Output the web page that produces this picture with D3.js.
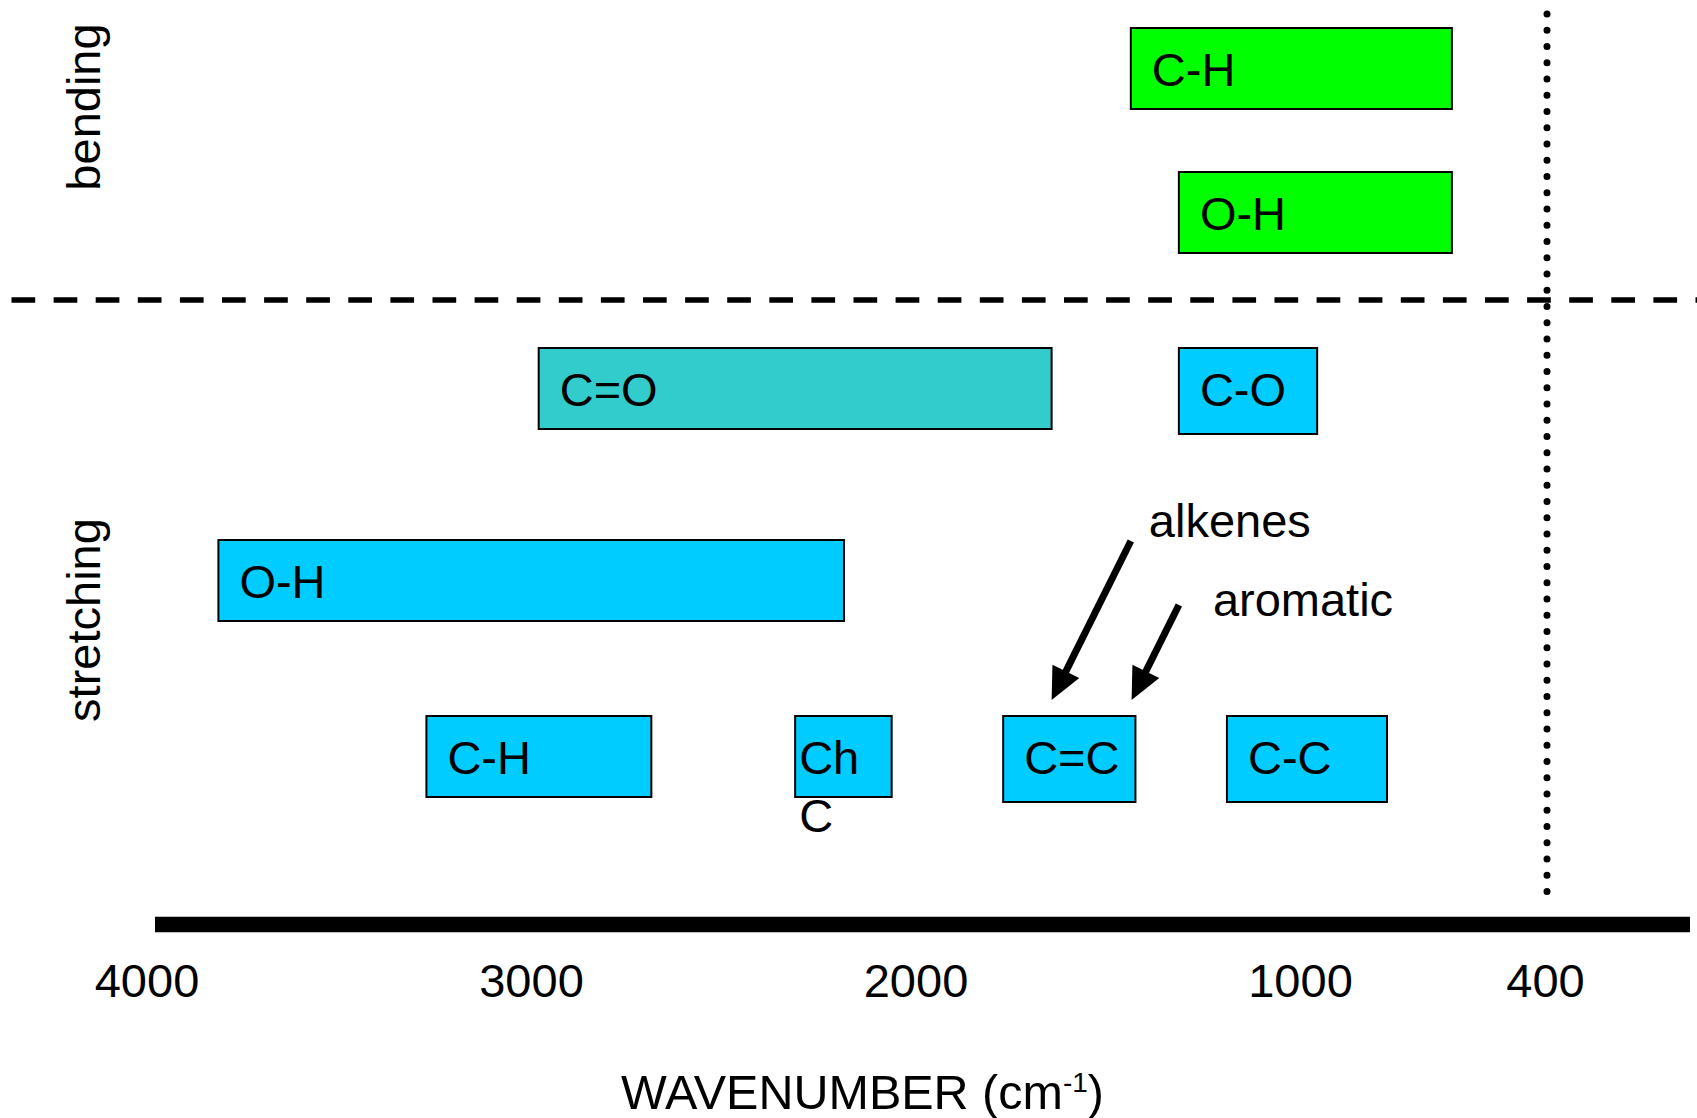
<!DOCTYPE html>
<html>
<head>
<meta charset="utf-8">
<script src="https://cdn.jsdelivr.net/npm/d3@7"></script>
<style>
  html, body { margin: 0; padding: 0; background: #fff; }
  svg { display: block; font-family: "Liberation Sans", Arial, sans-serif; }
</style>
</head>
<body>
<svg id="chart" width="1697" height="1118"></svg>
<script>
// IR absorption regions by bond; each band spans bandHigh → bandLow (cm^-1)
const bandLabels = [["C-H"], ["O-H"], ["C=O"], ["C-O"], ["O-H"], ["C-H"], ["Ch", "C"], ["C=C"], ["C-C"]];
const bandKinds  = ["bend", "bend", "carbonyl", "stretch", "stretch", "stretch", "stretch", "stretch", "stretch"];
const bandRows   = ["b1", "b2", "s1", "s1", "s2", "s3", "s3", "s3", "s3"];
const bandHigh   = [1440, 1315, 2980, 1315, 3813, 3272, 2313, 1772, 1190];
const bandLow    = [628, 628, 1646, 958, 2186, 2687, 2062, 1428, 787];

// Pointer annotations (arrow tail → arrow tip, cm^-1)
const pointerLabels = ["alkenes", "aromatic"];
const pointerFrom   = [1440, 1315];
const pointerTo     = [1646, 1438];

const tickValues = [4000, 3000, 2000, 1000, 400];
const modeLabels = ["bending", "stretching"];

// ---- layout ----
const FONT = 47;
const svg = d3.select("#chart");

const x = d3.scaleLinear()
  .domain([4000, 1000, 400])
  .range([146.5, 1300, 1545]);

const rowTop = d3.scaleOrdinal()
  .domain(["b1", "b2", "s1", "s2", "s3"])
  .range([28, 172, 348, 540, 716]);

const tallBands = new Set([3, 7, 8]);
const boxHeight = i => tallBands.has(i) ? 86 : 81;
const fillFor = { bend: "#00FF00", carbonyl: "#33CCCC", stretch: "#00CCFF" };

const bands = bandLabels.map((lines, i) => ({
  lines, kind: bandKinds[i], row: bandRows[i], hi: bandHigh[i], lo: bandLow[i], i
}));

// separator between bending and stretching regions
svg.append("line")
  .attr("x1", 11.5).attr("x2", 1697)
  .attr("y1", 300).attr("y2", 300)
  .attr("stroke", "#000").attr("stroke-width", 5.5)
  .attr("stroke-dasharray", "23.7 18.4");

// dotted marker at the low end of the range
svg.append("line")
  .attr("x1", x(400) + 2).attr("x2", x(400) + 2)
  .attr("y1", 14).attr("y2", 895)
  .attr("stroke", "#000").attr("stroke-width", 7)
  .attr("stroke-linecap", "round")
  .attr("stroke-dasharray", "0 16.25");

// band boxes
const g = svg.append("g").selectAll("g").data(bands).join("g");
g.append("rect")
  .attr("x", d => x(d.hi))
  .attr("y", d => rowTop(d.row))
  .attr("width", d => x(d.lo) - x(d.hi))
  .attr("height", d => boxHeight(d.i))
  .attr("fill", d => fillFor[d.kind])
  .attr("stroke", "#000").attr("stroke-width", 2);

g.append("text")
  .attr("font-size", FONT)
  .attr("fill", "#000")
  .each(function (d) {
    const inset = d.lines.length > 1 ? 4 : 21;
    const t = d3.select(this);
    d.lines.forEach((ln, k) => {
      t.append("tspan")
        .attr("x", x(d.hi) + inset)
        .attr("y", rowTop(d.row) + 58 + k * 57.7)
        .text(ln);
    });
  });

// pointer arrows
const pointerTailY = [541, 605];
const pointerTipY = 700;
const labelDx = [18, 34];
const labelY = [537, 616];
const headLen = 32, headW = 30;

pointerLabels.forEach((lab, i) => {
  const x0 = x(pointerFrom[i]), y0 = pointerTailY[i];
  const x1 = x(pointerTo[i]), y1 = pointerTipY;
  const len = Math.hypot(x1 - x0, y1 - y0);
  const ux = (x1 - x0) / len, uy = (y1 - y0) / len;
  const bx = x1 - ux * headLen, by = y1 - uy * headLen;
  const px = -uy, py = ux;
  svg.append("line")
    .attr("x1", x0).attr("y1", y0)
    .attr("x2", bx + ux * 2).attr("y2", by + uy * 2)
    .attr("stroke", "#000").attr("stroke-width", 7);
  svg.append("path")
    .attr("d", `M${x1},${y1}L${bx + px * headW / 2},${by + py * headW / 2}L${bx - px * headW / 2},${by - py * headW / 2}Z`)
    .attr("fill", "#000");
  svg.append("text")
    .attr("x", x0 + labelDx[i]).attr("y", labelY[i])
    .attr("font-size", FONT).attr("fill", "#000")
    .text(lab);
});

// mode labels (rotated)
const modeCenterY = [107, 620];
modeLabels.forEach((m, i) => {
  svg.append("text")
    .attr("transform", `translate(100,${modeCenterY[i]}) rotate(-90)`)
    .attr("text-anchor", "middle")
    .attr("font-size", FONT).attr("fill", "#000")
    .text(m);
});

// axis bar
svg.append("line")
  .attr("x1", 155).attr("x2", 1690)
  .attr("y1", 924.5).attr("y2", 924.5)
  .attr("stroke", "#000").attr("stroke-width", 15.5);

const axis = svg.append("g")
  .attr("transform", "translate(0,924.5)")
  .call(d3.axisBottom(x).tickValues(tickValues).tickSize(0).tickPadding(39).tickFormat(d3.format("d")));
axis.select(".domain").remove();
axis.selectAll("text")
  .attr("font-size", FONT)
  .attr("font-family", "Liberation Sans, Arial, sans-serif")
  .attr("fill", "#000");

// axis title
const title = svg.append("text")
  .attr("x", 862.5).attr("y", 1109)
  .attr("text-anchor", "middle")
  .attr("font-size", 48.5).attr("fill", "#000");
title.append("tspan").text("WAVENUMBER (cm");
title.append("tspan").attr("font-size", 28).attr("dy", -17).text("-1");
title.append("tspan").attr("dy", 17).text(")");
</script>
</body>
</html>
